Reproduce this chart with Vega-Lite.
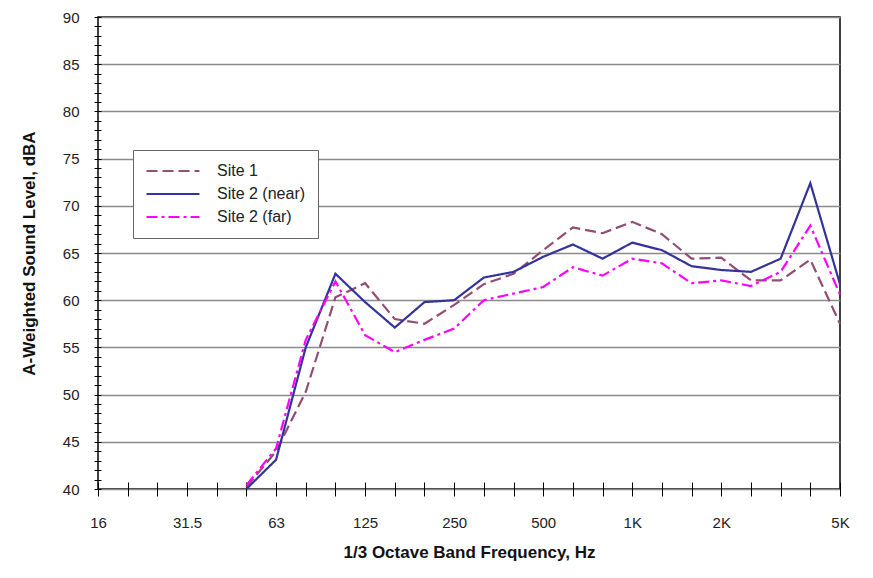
{
  "$schema": "https://vega.github.io/schema/vega-lite/v6.json",
  "width": 742,
  "height": 472,
  "autosize": "none",
  "padding": {"left": 98, "top": 17, "right": 33, "bottom": 89},
  "background": "white",
  "config": {
    "font": "Liberation Sans",
    "view": {"stroke": "#000000", "strokeWidth": 1.5},
    "axis": {"labelFont": "Liberation Sans", "titleFont": "Liberation Sans", "labelColor": "#222222", "titleColor": "#111111"}
  },
  "data": {
    "values": [
      {"series": "Site 1", "band": "50", "level": 40.2},
      {"series": "Site 1", "band": "63", "level": 44.0},
      {"series": "Site 1", "band": "80", "level": 50.3},
      {"series": "Site 1", "band": "100", "level": 60.3},
      {"series": "Site 1", "band": "125", "level": 61.8},
      {"series": "Site 1", "band": "160", "level": 58.0},
      {"series": "Site 1", "band": "200", "level": 57.5},
      {"series": "Site 1", "band": "250", "level": 59.5},
      {"series": "Site 1", "band": "315", "level": 61.7},
      {"series": "Site 1", "band": "400", "level": 62.8},
      {"series": "Site 1", "band": "500", "level": 65.3},
      {"series": "Site 1", "band": "630", "level": 67.7},
      {"series": "Site 1", "band": "800", "level": 67.1},
      {"series": "Site 1", "band": "1K", "level": 68.3},
      {"series": "Site 1", "band": "1.25K", "level": 67.0},
      {"series": "Site 1", "band": "1.6K", "level": 64.4},
      {"series": "Site 1", "band": "2K", "level": 64.5},
      {"series": "Site 1", "band": "2.5K", "level": 62.1},
      {"series": "Site 1", "band": "3.15K", "level": 62.1},
      {"series": "Site 1", "band": "4K", "level": 64.3},
      {"series": "Site 1", "band": "5K", "level": 57.5},
      {"series": "Site 2 (near)", "band": "50", "level": 40.0},
      {"series": "Site 2 (near)", "band": "63", "level": 43.1},
      {"series": "Site 2 (near)", "band": "80", "level": 55.0},
      {"series": "Site 2 (near)", "band": "100", "level": 62.8},
      {"series": "Site 2 (near)", "band": "125", "level": 59.8},
      {"series": "Site 2 (near)", "band": "160", "level": 57.1},
      {"series": "Site 2 (near)", "band": "200", "level": 59.8},
      {"series": "Site 2 (near)", "band": "250", "level": 60.0},
      {"series": "Site 2 (near)", "band": "315", "level": 62.4},
      {"series": "Site 2 (near)", "band": "400", "level": 63.0},
      {"series": "Site 2 (near)", "band": "500", "level": 64.6},
      {"series": "Site 2 (near)", "band": "630", "level": 65.9},
      {"series": "Site 2 (near)", "band": "800", "level": 64.4},
      {"series": "Site 2 (near)", "band": "1K", "level": 66.1},
      {"series": "Site 2 (near)", "band": "1.25K", "level": 65.3},
      {"series": "Site 2 (near)", "band": "1.6K", "level": 63.6},
      {"series": "Site 2 (near)", "band": "2K", "level": 63.2},
      {"series": "Site 2 (near)", "band": "2.5K", "level": 63.0},
      {"series": "Site 2 (near)", "band": "3.15K", "level": 64.4},
      {"series": "Site 2 (near)", "band": "4K", "level": 72.4},
      {"series": "Site 2 (near)", "band": "5K", "level": 61.7},
      {"series": "Site 2 (far)", "band": "50", "level": 40.4},
      {"series": "Site 2 (far)", "band": "63", "level": 44.3},
      {"series": "Site 2 (far)", "band": "80", "level": 55.8},
      {"series": "Site 2 (far)", "band": "100", "level": 62.0},
      {"series": "Site 2 (far)", "band": "125", "level": 56.3},
      {"series": "Site 2 (far)", "band": "160", "level": 54.5},
      {"series": "Site 2 (far)", "band": "200", "level": 55.8},
      {"series": "Site 2 (far)", "band": "250", "level": 57.0},
      {"series": "Site 2 (far)", "band": "315", "level": 60.0},
      {"series": "Site 2 (far)", "band": "400", "level": 60.7},
      {"series": "Site 2 (far)", "band": "500", "level": 61.4},
      {"series": "Site 2 (far)", "band": "630", "level": 63.5},
      {"series": "Site 2 (far)", "band": "800", "level": 62.6},
      {"series": "Site 2 (far)", "band": "1K", "level": 64.4},
      {"series": "Site 2 (far)", "band": "1.25K", "level": 63.9},
      {"series": "Site 2 (far)", "band": "1.6K", "level": 61.8},
      {"series": "Site 2 (far)", "band": "2K", "level": 62.1},
      {"series": "Site 2 (far)", "band": "2.5K", "level": 61.5},
      {"series": "Site 2 (far)", "band": "3.15K", "level": 63.0},
      {"series": "Site 2 (far)", "band": "4K", "level": 67.9},
      {"series": "Site 2 (far)", "band": "5K", "level": 60.6}
    ]
  },
  "mark": {"type": "line", "strokeWidth": 2.2},
  "encoding": {
    "x": {
      "field": "band",
      "type": "ordinal",
      "scale": {"type": "point", "padding": 0, "domain": ["16","20","25","31.5","40","50","63","80","100","125","160","200","250","315","400","500","630","800","1K","1.25K","1.6K","2K","2.5K","3.15K","4K","5K"]},
      "axis": {
        "title": "1/3 Octave Band Frequency, Hz",
        "titleFontSize": 17,
        "titleFontWeight": "bold",
        "titlePadding": 14,
        "labelFontSize": 15,
        "labelAngle": 0,
        "labelPadding": 19,
        "labelExpr": "indexof(['16','31.5','63','125','250','500','1K','2K','5K'], datum.value) >= 0 ? datum.value : ''",
        "offset": -7,
        "tickSize": 14,
        "tickColor": "#000000",
        "tickWidth": 1,
        "domain": false,
        "grid": false
      }
    },
    "y": {
      "field": "level",
      "type": "quantitative",
      "scale": {"domain": [40, 90], "nice": false, "zero": false},
      "axis": {
        "title": "A-Weighted Sound Level, dBA",
        "titleFontSize": 17,
        "titleFontWeight": "bold",
        "titlePadding": 24,
        "labelFontSize": 15,
        "labelPadding": 15,
        "values": [40,41,42,43,44,45,46,47,48,49,50,51,52,53,54,55,56,57,58,59,60,61,62,63,64,65,66,67,68,69,70,71,72,73,74,75,76,77,78,79,80,81,82,83,84,85,86,87,88,89,90],
        "labelExpr": "datum.value % 5 === 0 ? datum.label : ''",
        "offset": -3,
        "tickSize": 7,
        "tickColor": "#000000",
        "tickWidth": 1,
        "domain": false,
        "grid": true,
        "gridColor": "#8a8a8a",
        "gridWidth": 1.5,
        "gridOpacity": {"condition": {"test": "datum.value % 5 === 0", "value": 1}, "value": 0}
      }
    },
    "color": {
      "field": "series",
      "type": "nominal",
      "scale": {"domain": ["Site 1", "Site 2 (near)", "Site 2 (far)"], "range": ["#944D72", "#33339A", "#FF00FF"]},
      "legend": {
        "title": null,
        "orient": "none",
        "legendX": 35,
        "legendY": 133,
        "padding": 12,
        "strokeColor": "#666666",
        "fillColor": "#ffffff",
        "symbolType": "stroke",
        "symbolSize": 2800,
        "symbolStrokeWidth": 2.2,
        "clipHeight": 18,
        "labelFontSize": 16,
        "labelColor": "#222222",
        "labelOffset": 16,
        "rowPadding": 5
      }
    },
    "strokeDash": {
      "field": "series",
      "type": "nominal",
      "scale": {"domain": ["Site 1", "Site 2 (near)", "Site 2 (far)"], "range": [[11, 5], [1, 0], [11, 4, 3, 4]]},
      "legend": {
        "title": null,
        "orient": "none",
        "legendX": 35,
        "legendY": 133,
        "padding": 12,
        "strokeColor": "#666666",
        "fillColor": "#ffffff",
        "symbolType": "stroke",
        "symbolSize": 2800,
        "symbolStrokeWidth": 2.2,
        "clipHeight": 18,
        "labelFontSize": 16,
        "labelColor": "#222222",
        "labelOffset": 16,
        "rowPadding": 5
      }
    }
  }
}
